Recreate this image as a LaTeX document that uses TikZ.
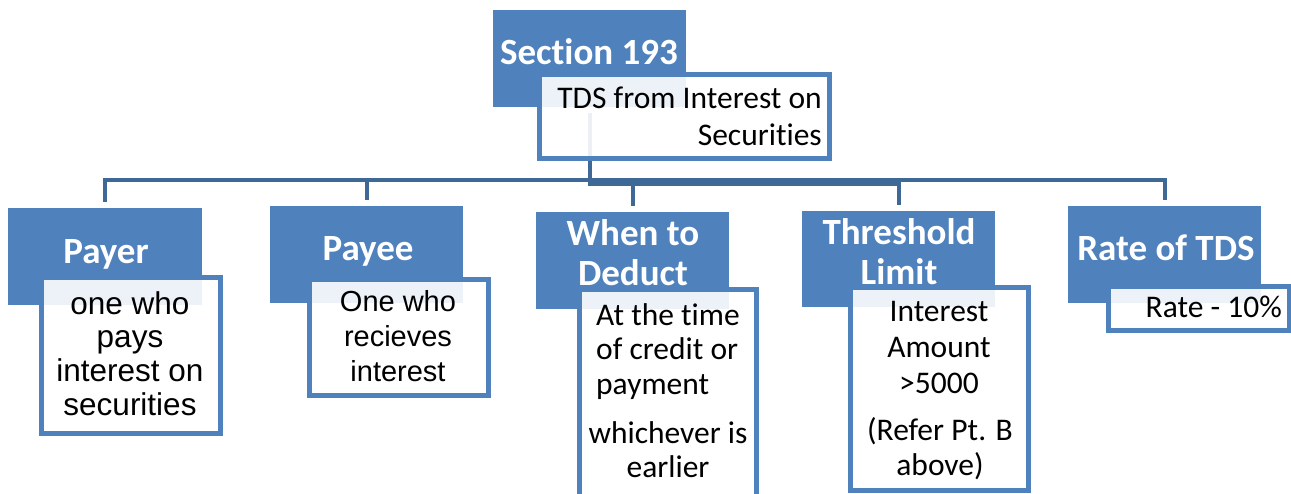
\documentclass[tikz,border=0pt]{standalone}
\usepackage{fontspec}
\setmainfont{Carlito}[Ligatures={NoCommon}]
\newfontfamily\arialf{Liberation Sans}
\definecolor{hdrblue}{HTML}{4F81BD}
\definecolor{connblue}{HTML}{3E6896}
\newcommand\tstr{\rule{0pt}{26pt}}
\newcommand\hstr{\rule{0pt}{30pt}}
\tikzset{
  hdrbox/.style={fill=hdrblue, draw=none, inner sep=0pt},
  bodybox/.style={draw=hdrblue, line width=5pt, fill=white, fill opacity=0.9, inner sep=0pt},
  hdrtext/.style={text=white, inner sep=0pt, font=\fontsize{37}{40.5}\selectfont\bfseries, align=center},
  bodytext/.style={text=black, inner sep=0pt, font=\fontsize{31.5}{35}\selectfont},
  conn/.style={draw=connblue, line width=4pt, shorten >=6pt, shorten <=6pt},
}
\begin{document}
\begin{tikzpicture}[x=1pt,y=-1pt]
\useasboundingbox (0,0) rectangle (1291,494);
\clip (0,0) rectangle (1291,494);
% header boxes
\node[hdrbox, minimum width=193pt, minimum height=97pt] (root) at (589.5,58.5) {};
\node[hdrbox, minimum width=194pt, minimum height=97pt] (payer) at (105,256.5) {};
\node[hdrbox, minimum width=193pt, minimum height=97pt] (payee) at (366.5,254.5) {};
\node[hdrbox, minimum width=193pt, minimum height=97pt] (when) at (632.5,260.5) {};
\node[hdrbox, minimum width=193pt, minimum height=96pt] (thresh) at (898.5,259) {};
\node[hdrbox, minimum width=193pt, minimum height=97pt] (rate) at (1164.5,254.5) {};
% connectors
\draw[conn] (root.south) -- ++(0,72.5) -| (payer.north);
\draw[conn] (root.south) -- ++(0,72.5) -| (payee.north);
\draw[conn] (root.south) -- ++(0,77) -| (when.north);
\draw[conn] (root.south) -- ++(0,77) -| (thresh.north);
\draw[conn] (root.south) -- ++(0,72.5) -| (rate.north);
% body boxes
\node[bodybox, minimum width=290pt, minimum height=84pt] (rootb) at (684.5,116.5) {};
\node[bodybox, minimum width=179pt, minimum height=156pt] (payerb) at (131,355.5) {};
\node[bodybox, minimum width=179pt, minimum height=116pt] (payeeb) at (399,337.5) {};
\node[bodybox, minimum width=177pt, minimum height=218pt] (whenb) at (668,398.5) {};
\node[bodybox, minimum width=178pt, minimum height=203pt] (threshb) at (939.5,389) {};
\node[bodybox, minimum width=181pt, minimum height=44pt] (rateb) at (1199,308.5) {};
% header texts
\node[hdrtext, anchor=base] (roott) at (589,65) {Section 193};
\node[hdrtext, anchor=base] (payert) at (106,264) {Payer};
\node[hdrtext, anchor=base] (payeet) at (368,261) {Payee};
\node[hdrtext, anchor=north] (whent) at (633,245-30) {\hstr When to\\Deduct};
\node[hdrtext, anchor=north] (thresht) at (899,244-30) {\hstr Threshold\\Limit};
\node[hdrtext, anchor=base] (ratet) at (1166,261) {Rate of TDS};
% body texts
\node[bodytext, align=right, anchor=north east, font=\fontsize{31.5}{37}\selectfont] (rootbt) at (822,108-26) {\tstr TDS from Interest on\\Securities};
\node[bodytext, align=center, anchor=north, font=\arialf\fontsize{31.5}{33.7}\selectfont] (payerbt) at (130,314-26) {\tstr one who\\pays\\interest on\\securities};
\node[bodytext, align=center, anchor=north, font=\arialf\fontsize{29}{35}\selectfont] (payeebt) at (398,311-26) {\tstr One who\\recieves\\interest};
\node[bodytext, align=left, anchor=north west, font=\fontsize{31.5}{34.5}\selectfont] (whenbt1) at (596,325-26) {\tstr At the time\\of credit or\\payment};
\node[bodytext, align=center, anchor=north, font=\fontsize{31.5}{34}\selectfont] (whenbt2) at (668,443-26) {\tstr whichever is\\earlier};
\node[bodytext, align=center, anchor=north, font=\fontsize{31.5}{35.6}\selectfont] (threshbt1) at (939,321.7-26) {\tstr Interest\\Amount\\>5000};
\node[bodytext, align=center, anchor=north, font=\fontsize{31.5}{34.3}\selectfont] (threshbt2) at (940,440.7-26) {\tstr (Refer Pt. B\\above)};
\node[bodytext, anchor=base east] (ratebt) at (1282,318) {Rate - 10\%};
\end{tikzpicture}
\end{document}
